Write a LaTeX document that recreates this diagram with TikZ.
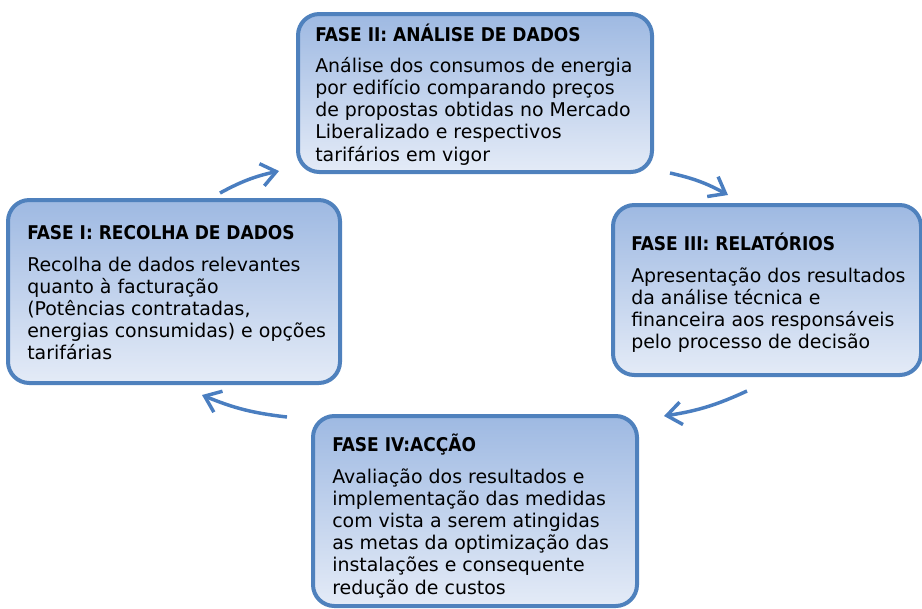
\documentclass[tikz,border=0pt]{standalone}
\usepackage{fontspec}
\setmainfont{DejaVu Sans}
\newfontfamily\fasefont{DejaVu Sans Condensed}
\usetikzlibrary{arrows.meta}

\definecolor{faseline}{RGB}{79,129,189}
\definecolor{fasetop}{RGB}{158,185,226}
\definecolor{fasebot}{RGB}{228,235,247}
\definecolor{setacor}{RGB}{74,126,192}

\tikzset{fase/.style={draw=faseline, line width=3pt, rounded corners=16pt,
  top color=fasetop, bottom color=fasebot, inner sep=0pt}}
\tikzset{titulo/.style={anchor=base west, inner sep=0pt,
  font=\fasefont\fontsize{14.2}{16.65}\selectfont\bfseries}}
\tikzset{corpo/.style={anchor=base west, inner sep=0pt, align=left,
  font=\fontsize{14.2}{16.65}\selectfont}}
\tikzset{seta/.style={draw=setacor, line width=2.6pt,
  -{Straight Barb[length=11pt,width=17pt]}, bend left=8}}

\begin{document}
\begin{tikzpicture}[x=0.75pt, y=-0.75pt]
      \useasboundingbox (0,0) rectangle (922,608);

      % caixas das fases
      \node [fase, minimum width=249pt, minimum height=137.25pt] (fase1) at (174,291.5) {};
      \node [fase, minimum width=265.5pt, minimum height=118.5pt] (fase2) at (475,93) {};
      \node [fase, minimum width=231pt, minimum height=127.5pt] (fase3) at (767,290) {};
      \node [fase, minimum width=243pt, minimum height=142.5pt] (fase4) at (475,511) {};

      % textos (corpo ancorado na linha de base da ultima linha)
      \node [titulo] (t1) at (27,239) {FASE I: RECOLHA DE DADOS};
      \node [corpo] (c1) at (27,359.8) {Recolha de dados relevantes\\quanto à facturação\\(Potências contratadas,\\energias consumidas) e opções\\tarifárias};

      \node [titulo] (t2) at (315,41) {FASE II: ANÁLISE DE DADOS};
      \node [corpo] (c2) at (315,161.1) {Análise dos consumos de energia\\por edifício comparando preços\\de propostas obtidas no Mercado\\Liberalizado e respectivos\\tarifários em vigor};

      \node [titulo] (t3) at (631,250) {FASE III: RELATÓRIOS};
      \node [corpo] (c3) at (631,348.6) {Apresentação dos resultados\\da análise técnica e\\financeira aos responsáveis\\pelo processo de decisão};

      \node [titulo] (t4) at (332,451) {FASE IV:ACÇÃO};
      \node [corpo] (c4) at (332,594) {Avaliação dos resultados e\\implementação das medidas\\com vista a serem atingidas\\as metas da optimização das\\instalações e consequente\\redução de custos};

      % setas do ciclo
      \coordinate (s1a) at (220,193);
      \coordinate (s1b) at (279,171);
      \coordinate (s2a) at (670,173);
      \coordinate (s2b) at (728,195);
      \coordinate (s3a) at (747,391);
      \coordinate (s3b) at (664,416);
      \coordinate (s4a) at (287,417);
      \coordinate (s4b) at (202,395);

      \draw [seta] (s1a) to (s1b);
      \draw [seta] (s2a) to (s2b);
      \draw [seta] (s3a) to (s3b);
      \draw [seta] (s4a) to (s4b);
\end{tikzpicture}
\end{document}
